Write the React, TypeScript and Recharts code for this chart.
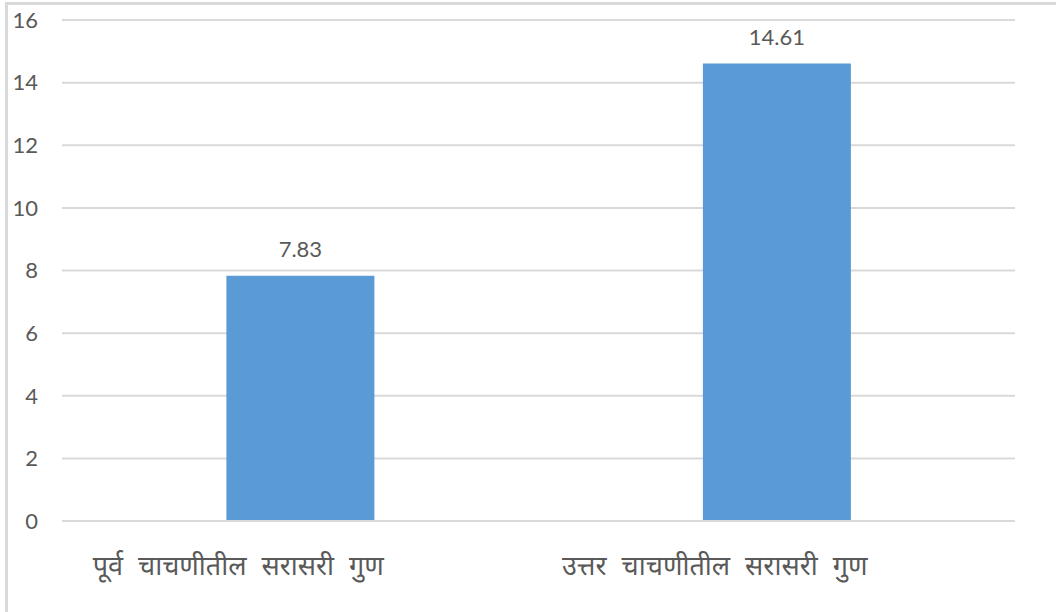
import { Bar, BarChart, CartesianGrid, LabelList, XAxis, YAxis } from "recharts"

const categories = ["पूर्व चाचणीतील सरासरी गुण", "उत्तर चाचणीतील सरासरी गुण"]
const averageScores = [7.83, 14.61]
const yTicks = [0, 2, 4, 6, 8, 10, 12, 14, 16]

const data = categories.map((name, i) => ({ name, value: averageScores[i] }))

const textColor = "#595959"
const gridColor = "#d9d9d9"

function CategoryTick(props: any) {
  const { x, y, payload } = props
  return (
    <text
      x={x - 62}
      y={y + 46}
      textAnchor="middle"
      fill={textColor}
      fontSize={27}
      wordSpacing={8}
      fontFamily="'Noto Sans', 'Noto Sans Devanagari', sans-serif"
    >
      {payload.value}
    </text>
  )
}

export default function App() {
  return (
    <div
      style={{
        position: "absolute",
        left: 0,
        top: 0,
        width: 1056,
        height: 612,
        background: "#fff",
        fontFamily: "Lato, sans-serif",
      }}
    >
      <div
        style={{
          position: "absolute",
          left: 5,
          top: 2,
          width: 1051,
          height: 610,
          borderTop: `3px solid ${gridColor}`,
          borderLeft: `3px solid ${gridColor}`,
          boxSizing: "border-box",
        }}
      />
      <BarChart
        width={1056}
        height={612}
        data={data}
        margin={{ top: 20, right: 41, bottom: 0, left: 0 }}
        barCategoryGap="34.5%"
        style={{ position: "absolute", left: 0, top: 0 }}
      >
        <CartesianGrid vertical={false} stroke={gridColor} strokeWidth={2} />
        <XAxis
          dataKey="name"
          height={91}
          axisLine={{ stroke: gridColor, strokeWidth: 2 }}
          tickLine={false}
          tick={<CategoryTick />}
          interval={0}
        />
        <YAxis
          width={62}
          domain={[0, 16]}
          ticks={yTicks}
          axisLine={false}
          tickLine={false}
          tickSize={0}
          tickMargin={24}
          tick={{ fill: textColor, fontSize: 22, fontFamily: "Lato, sans-serif" }}
        />
        <Bar dataKey="value" fill="#5b9bd5" isAnimationActive={false}>
          <LabelList
            dataKey="value"
            position="top"
            offset={19}
            fill={textColor}
            fontSize={22}
            fontFamily="Lato, sans-serif"
          />
        </Bar>
      </BarChart>
    </div>
  )
}
